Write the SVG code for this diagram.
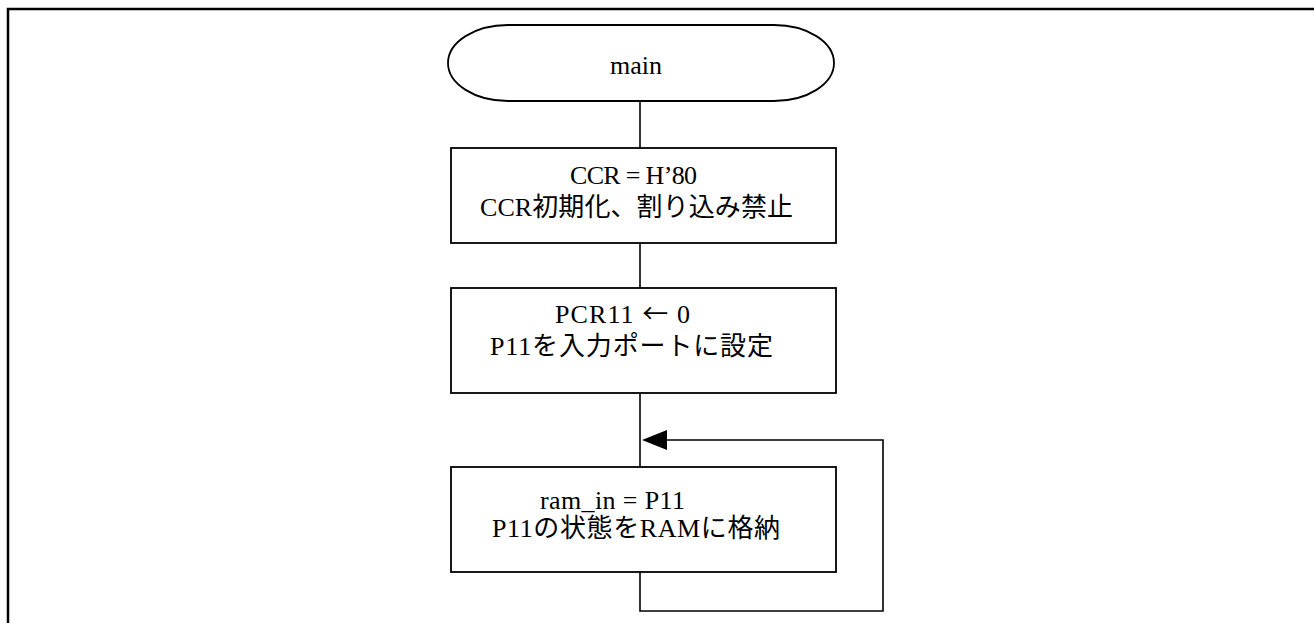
<svg xmlns="http://www.w3.org/2000/svg" width="1314" height="623" viewBox="0 0 1314 623">
<style>
.shape{fill:#fff;stroke:#000;stroke-width:1.8}
.conn{fill:none;stroke:#000;stroke-width:1.6}
.t{font-family:"Liberation Serif","Noto Sans CJK JP",serif;font-size:26px;fill:#000}
.j{font-family:"Noto Sans CJK JP",sans-serif}
.frame{fill:none;stroke:#000;stroke-width:2.5}
</style>
<path class="frame" d="M8,623 V9 H1314"/>
<g id="connectors">
<line class="conn" x1="640" y1="101" x2="640" y2="148"/>
<line class="conn" x1="640" y1="243" x2="640" y2="288"/>
<line class="conn" x1="640" y1="393" x2="640" y2="467"/>
<polyline class="conn" points="640,572 640,611 883,611 883,440 665,440"/>
<polygon points="642,440 667,430 667,450" fill="#000"/>
</g>
<g id="start">
<rect class="shape" x="448" y="25" width="386" height="76" rx="60" ry="38"/>
<text class="t" x="610" y="74" textLength="52">main</text>
</g>
<g id="ccr">
<rect class="shape" x="451" y="148" width="385" height="95"/>
<text class="t" x="570" y="184" textLength="127">CCR = H’80</text>
<text class="t" x="480" y="216" textLength="313">CCR初期化、割り込み禁止</text>
</g>
<g id="pcr">
<rect class="shape" x="451" y="288" width="385" height="105"/>
<text class="t" x="555" y="323" textLength="135">PCR11 <tspan class="j">←</tspan> 0</text>
<text class="t" x="490" y="355" textLength="283">P11を入力ポートに設定</text>
</g>
<g id="ramin">
<rect class="shape" x="451" y="467" width="385" height="105"/>
<text class="t" x="540" y="509" textLength="145">ram_in = P11</text>
<text class="t" x="492" y="537" textLength="288">P11の状態をRAMに格納</text>
</g>
</svg>
